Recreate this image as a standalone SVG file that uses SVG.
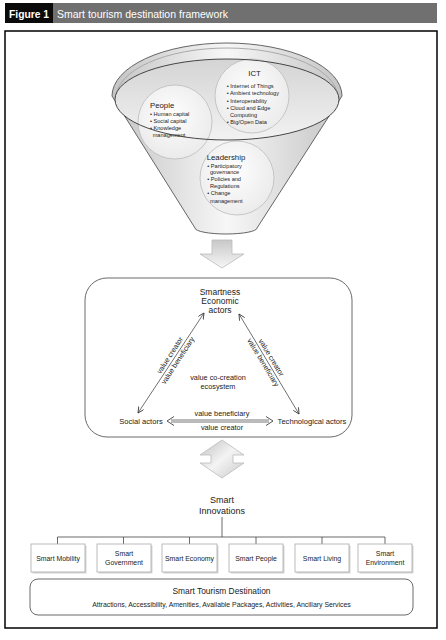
<svg xmlns="http://www.w3.org/2000/svg" width="446" height="640" viewBox="0 0 446 640">
<style>
text{font-family:"Liberation Sans",Arial,Helvetica,sans-serif;fill:#222}
.t9{font-size:8.5px;text-anchor:middle}
.lab{font-size:7.3px;text-anchor:middle}
.box{fill:#fff;stroke:#aaa;stroke-width:0.8}
.shadow{fill:#d6d6d6}
.bx{font-size:6.9px;text-anchor:middle}
.ct{font-size:7.8px}
.bl{font-size:5.6px}
.thin{stroke:#333;stroke-width:0.7;fill:none}
.tree{stroke:#444;stroke-width:0.8;fill:none}
.circ{fill:url(#cg);stroke:#bbb;stroke-width:0.8}
</style>
<defs>
<linearGradient id="fg" x1="0" y1="0" x2="1" y2="0">
<stop offset="0" stop-color="#c4c4c4"/><stop offset="0.5" stop-color="#f7f7f7"/><stop offset="1" stop-color="#c4c4c4"/>
</linearGradient>
<linearGradient id="eg" x1="0" y1="0" x2="0" y2="1">
<stop offset="0" stop-color="#d4d4d4"/><stop offset="1" stop-color="#f2f2f2"/>
</linearGradient>
<radialGradient id="cg" cx="0.45" cy="0.4" r="0.6">
<stop offset="0" stop-color="#ffffff" stop-opacity="0.95"/><stop offset="1" stop-color="#ececec" stop-opacity="0.9"/>
</radialGradient>
<linearGradient id="ag" x1="0" y1="0" x2="0" y2="1">
<stop offset="0" stop-color="#c8c8c8"/><stop offset="1" stop-color="#f6f6f6"/>
</linearGradient>
<linearGradient id="ag2" x1="0" y1="0" x2="1" y2="1">
<stop offset="0" stop-color="#c0c0c0"/><stop offset="0.5" stop-color="#f4f4f4"/><stop offset="1" stop-color="#c8c8c8"/>
</linearGradient>
<marker id="ah" markerWidth="7" markerHeight="7" refX="6" refY="3" orient="auto-start-reverse" markerUnits="userSpaceOnUse">
<path d="M0,0 L6,3 L0,6" fill="none" stroke="#333" stroke-width="0.8"/>
</marker>
</defs>
<rect width="446" height="640" fill="#fff"/>
<g id="header">
<rect x="5" y="3" width="432" height="20" fill="#707070"/>
<rect x="5" y="3" width="48" height="20" fill="#0a0a0a"/>
<text x="9" y="17.5" style="font-size:10.3px;font-weight:bold;fill:#fff">Figure 1</text>
<text x="57" y="17.5" style="font-size:10.5px;fill:#fff">Smart tourism destination framework</text>
</g>
<rect id="frame" x="5" y="31" width="432" height="597" fill="none" stroke="#000" stroke-width="1.5"/>

<g id="funnel">
<path d="M112,96 A115,53 0 0 1 342,96 L257,228 A31,6 0 0 1 195,228 Z" fill="url(#fg)" stroke="#666" stroke-width="1"/>
<path d="M116,98 A111,50 0 0 1 338,98" fill="none" stroke="#aaa" stroke-width="1"/>
<ellipse cx="227" cy="99.5" rx="112" ry="40.5" fill="url(#eg)"/>
</g>
<g id="people">
<circle class="circ" cx="175" cy="122" r="37"/>
<text class="ct" x="150" y="108">People</text>
<text class="bl" x="150" y="116.2">• Human capital</text>
<text class="bl" x="150" y="122.5">• Social capital</text>
<text class="bl" x="150" y="129.5">• Knowledge</text>
<text class="bl" x="152.7" y="137">management</text>
</g>
<g id="ict">
<circle class="circ" cx="252" cy="96" r="37"/>
<text class="ct" x="254.5" y="76" text-anchor="middle">ICT</text>
<text class="bl" x="226.7" y="87.8">• Internet of Things</text>
<text class="bl" x="226.7" y="95.3">• Ambient technology</text>
<text class="bl" x="226.7" y="102.7">• Interoperability</text>
<text class="bl" x="226.7" y="110.3">• Cloud and Edge</text>
<text class="bl" x="230" y="117">Computing</text>
<text class="bl" x="226.7" y="124.3">• Big/Open Data</text>
</g>
<g id="leadership">
<circle class="circ" cx="237" cy="178" r="37"/>
<text class="ct" x="206.7" y="159.5">Leadership</text>
<text class="bl" x="207.3" y="168">• Participatory</text>
<text class="bl" x="210" y="174.3">governance</text>
<text class="bl" x="207.3" y="181.3">• Policies and</text>
<text class="bl" x="210" y="187.7">Regulations</text>
<text class="bl" x="207.3" y="195.3">• Change</text>
<text class="bl" x="210" y="202.7">management</text>
</g>
<ellipse cx="227" cy="99.5" rx="112" ry="40.5" fill="none" stroke="#333" stroke-width="0.9"/>

<g id="ecosystem">
<rect x="85" y="278" width="267" height="159" rx="22" fill="none" stroke="#444" stroke-width="0.8"/>
<text class="t9" x="220" y="294.5">Smartness</text>
<text class="t9" x="220" y="303.5">Economic</text>
<text class="t9" x="220" y="313">actors</text>
<text class="lab" x="218" y="380">value co-creation</text>
<text class="lab" x="218" y="389">ecosystem</text>
<text x="141" y="424" style="font-size:7.6px;text-anchor:middle">Social actors</text>
<text x="312" y="424" style="font-size:7.6px;text-anchor:middle">Technological actors</text>
</g>

<g id="connectors">
<path d="M212,240 H232 V254 H244 L222,268 L200,254 H212 Z" fill="url(#ag)" stroke="#bbb" stroke-width="0.8"/>
<path d="M222,440 L244,455 H233 V463 H244 L222,478 L200,463 H211 V455 H200 Z" fill="url(#ag2)" stroke="#bbb" stroke-width="0.8"/>
<line class="thin" x1="138" y1="413" x2="204" y2="313" marker-start="url(#ah)" marker-end="url(#ah)"/>
<line class="thin" x1="239" y1="314" x2="299" y2="414" marker-start="url(#ah)" marker-end="url(#ah)"/>
<line x1="171" y1="421" x2="269" y2="421" stroke="#777" stroke-width="3"/>
<line x1="171" y1="421" x2="269" y2="421" stroke="#fff" stroke-width="1"/>
<path d="M174,416.5 L167,421 L174,425.5" fill="none" stroke="#555" stroke-width="1"/>
<path d="M266,416.5 L273,421 L266,425.5" fill="none" stroke="#555" stroke-width="1"/>
<g transform="translate(174,358) rotate(-57)">
<text class="lab" x="0" y="-2.5">value creator</text>
<text class="lab" x="0" y="7">value beneficiary</text>
</g>
<g transform="translate(267,360) rotate(59)">
<text class="lab" x="0" y="-2.5">value creator</text>
<text class="lab" x="0" y="7">value beneficiary</text>
</g>
<text class="lab" x="222" y="415.5">value beneficiary</text>
<text class="lab" x="222" y="430">value creator</text>
<path class="tree" d="M222,517 V537 M57.5,537 H385 M57.5,537 V544 M123.5,537 V544 M189.5,537 V544 M256,537 V544 M322,537 V544 M385,537 V544"/>
</g>

<g id="innovations">
<text x="222" y="503" style="font-size:9px;text-anchor:middle">Smart</text>
<text x="222" y="514" style="font-size:9px;text-anchor:middle">Innovations</text>
</g>
<g id="smart-mobility">
<rect class="shadow" x="32.5" y="545.5" width="54" height="28"/>
<rect class="box" x="31" y="544" width="54" height="28"/>
<text class="bx" x="58" y="560.5">Smart Mobility</text>
</g>
<g id="smart-government">
<rect class="shadow" x="98.5" y="545.5" width="54" height="28"/>
<rect class="box" x="97" y="544" width="54" height="28"/>
<text class="bx" x="124" y="555.5">Smart</text>
<text class="bx" x="124" y="564.5">Government</text>
</g>
<g id="smart-economy">
<rect class="shadow" x="163.5" y="545.5" width="55" height="28"/>
<rect class="box" x="162" y="544" width="55" height="28"/>
<text class="bx" x="189.5" y="560.5">Smart Economy</text>
</g>
<g id="smart-people">
<rect class="shadow" x="230.5" y="545.5" width="54" height="28"/>
<rect class="box" x="229" y="544" width="54" height="28"/>
<text class="bx" x="256" y="560.5">Smart People</text>
</g>
<g id="smart-living">
<rect class="shadow" x="296.5" y="545.5" width="54" height="28"/>
<rect class="box" x="295" y="544" width="54" height="28"/>
<text class="bx" x="322" y="560.5">Smart Living</text>
</g>
<g id="smart-environment">
<rect class="shadow" x="359.5" y="545.5" width="54" height="28"/>
<rect class="box" x="358" y="544" width="54" height="28"/>
<text class="bx" x="385" y="555.5">Smart</text>
<text class="bx" x="385" y="564.5">Environment</text>
</g>
<g id="destination">
<rect x="30" y="579" width="383" height="36" rx="8" fill="#fff" stroke="#444" stroke-width="0.8"/>
<text x="221.5" y="594" style="font-size:8.4px;text-anchor:middle">Smart Tourism Destination</text>
<text x="221.5" y="606.5" style="font-size:6.9px;text-anchor:middle">Attractions, Accessibility, Amenities, Available Packages, Activities, Ancillary Services</text>
</g>
</svg>
